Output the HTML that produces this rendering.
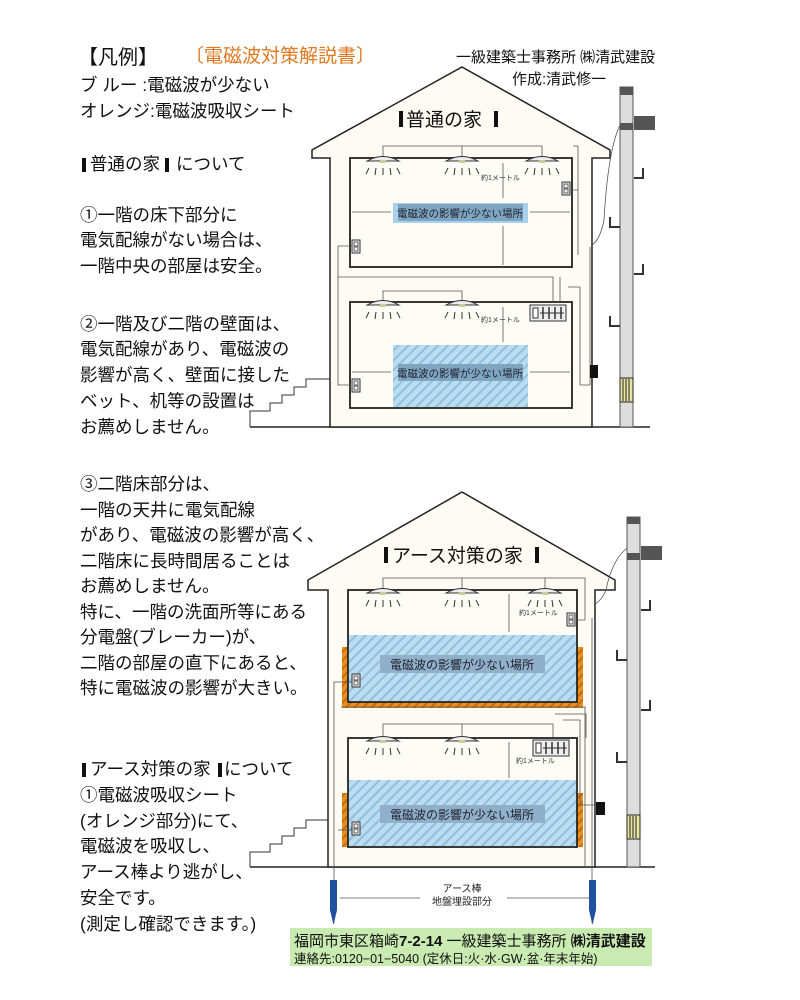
<!DOCTYPE html>
<html><head><meta charset="utf-8"><style>
html,body{margin:0;padding:0;background:#fff;}
svg{display:block;}
text{font-family:"Liberation Sans","Noto Sans CJK JP",sans-serif;}
</style></head><body>
<svg width="800" height="1000" viewBox="0 0 800 1000" xmlns="http://www.w3.org/2000/svg">
<defs>
<pattern id="h" width="7" height="7" patternUnits="userSpaceOnUse" patternTransform="rotate(45)">
<rect width="7" height="7" fill="#bcdcf0"/><rect width="2" height="7" fill="#8fbfe0"/>
</pattern>
<pattern id="o" width="6" height="6" patternUnits="userSpaceOnUse" patternTransform="rotate(45)">
<rect width="6" height="6" fill="#e8901c"/><rect width="2" height="6" fill="#c86a10"/>
</pattern>
<g id="lamp"><path d="M-16,3 Q0,-6 16,3 Z" fill="#eee" stroke="#333" stroke-width="1"/><rect x="-3" y="2" width="6" height="3" fill="#cc9"/>
<g stroke="#333" stroke-width="1"><line x1="-14" y1="10" x2="-17" y2="16"/><line x1="-7" y1="10" x2="-8" y2="17"/><line x1="0" y1="10" x2="0" y2="17"/><line x1="7" y1="10" x2="8" y2="17"/><line x1="14" y1="10" x2="17" y2="16"/></g></g>
<g id="sock"><rect x="0" y="0" width="8" height="13" fill="#eee" stroke="#333"/><rect x="2" y="2" width="4" height="4" fill="none" stroke="#333" stroke-width=".7"/><rect x="2" y="7" width="4" height="4" fill="none" stroke="#333" stroke-width=".7"/></g>
<g id="panel"><rect x="0" y="0" width="36" height="16" fill="#eee" stroke="#333"/><rect x="3" y="3" width="5" height="10" fill="#fff" stroke="#333"/><g stroke="#333" stroke-width="1.5"><line x1="13" y1="2" x2="13" y2="14"/><line x1="19" y1="2" x2="19" y2="14"/><line x1="25" y1="2" x2="25" y2="14"/><line x1="31" y1="2" x2="31" y2="14"/></g><line x1="10" y1="8" x2="34" y2="8" stroke="#333"/></g>
</defs>

<!-- left text -->
<g font-size="17.5" fill="#111">
<text x="78" y="64" font-size="20">【凡例】</text>
<text x="80" y="91">ブ ルー :電磁波が少ない</text>
<text x="80" y="117">オレンジ:電磁波吸収シート</text>
<rect x="82" y="158" width="4" height="14" fill="#111"/><text x="90" y="170">普通の家</text><rect x="165" y="158" width="4" height="14" fill="#111"/><text x="176" y="170">について</text>
<text x="80" y="221">①一階の床下部分に</text>
<text x="80" y="246">電気配線がない場合は、</text>
<text x="80" y="272">一階中央の部屋は安全。</text>
<text x="80" y="330">②一階及び二階の壁面は、</text>
<text x="80" y="355">電気配線があり、電磁波の</text>
<text x="80" y="381">影響が高く、壁面に接した</text>
<text x="80" y="407">ベット、机等の設置は</text>
<text x="80" y="433">お薦めしません。</text>
<text x="80" y="490">③二階床部分は、</text>
<text x="80" y="516">一階の天井に電気配線</text>
<text x="80" y="541">があり、電磁波の影響が高く、</text>
<text x="80" y="567">二階床に長時間居ることは</text>
<text x="80" y="592">お薦めしません。</text>
<text x="80" y="618">特に、一階の洗面所等にある</text>
<text x="80" y="643">分電盤(ブレーカー)が、</text>
<text x="80" y="669">二階の部屋の直下にあると、</text>
<text x="80" y="694">特に電磁波の影響が大きい。</text>
<rect x="82" y="763" width="4" height="14" fill="#111"/><text x="90" y="775">アース対策の家</text><rect x="218" y="763" width="4" height="14" fill="#111"/><text x="224" y="775">について</text>
<text x="80" y="801">①電磁波吸収シート</text>
<text x="80" y="827">(オレンジ部分)にて、</text>
<text x="80" y="852">電磁波を吸収し、</text>
<text x="80" y="878">アース棒より逃がし、</text>
<text x="80" y="904">安全です。</text>
<text x="80" y="930">(測定し確認できます。)</text>
</g>
<text x="185" y="62" font-size="19" fill="#e07820">〔電磁波対策解説書〕</text>
<text x="456" y="62" font-size="15" fill="#111">一級建築士事務所 ㈱清武建設</text>
<text x="512" y="84" font-size="15" fill="#111">作成:清武修一</text>

<!-- HOUSE 1 -->
<line x1="250" y1="427" x2="650" y2="427" stroke="#222" stroke-width="1.5"/>
<path d="M250,427 V411 H270 V403 H282 V395 H294 V387 H306 V379 H330" fill="none" stroke="#333"/>
<path d="M330,427 V158 H312 V150 L462,67 L610,150 V158 H592 V427 Z" fill="#fdfbf3" stroke="#222" stroke-width="1.5"/>
<rect x="399" y="111" width="4" height="16" fill="#111"/><text x="406" y="126" font-size="19" fill="#111">普通の家</text><rect x="494" y="111" width="4" height="16" fill="#111"/>
<rect x="350" y="158" width="222" height="109" fill="#fdfcf6" stroke="#222" stroke-width="1.8"/>
<rect x="350" y="302" width="222" height="106" fill="#fdfcf6" stroke="#222" stroke-width="1.8"/>
<rect x="393" y="345" width="135" height="62" fill="url(#h)"/>
<rect x="393" y="203" width="135" height="20" fill="#a9d0ec"/>
<rect x="398" y="204" width="125" height="17" fill="#7fa6c0"/>
<text x="460" y="217" font-size="10.5" text-anchor="middle" fill="#223">電磁波の影響が少ない場所</text>
<rect x="398" y="364" width="125" height="17" fill="#7fa6c0"/>
<text x="460" y="377" font-size="10.5" text-anchor="middle" fill="#223">電磁波の影響が少ない場所</text>
<g fill="none" stroke="#555" stroke-width=".8">
<path d="M383,158 V146 H542 V158 M462,146 V158 M573,146 H578 V255 M578,190 H566"/>
<path d="M358,246 H338 V277 H553 V302 M338,277 V385 H350 M560,277 V302 M568,287 H580 V385 H590"/>
<path d="M383,302 V291 H462 V302"/>
<path d="M590,247 V385 M592,245 Q600,240 604,220 Q608,150 620,125"/>
<path d="M503,163 V198 M503,226 V265 M503,307 V342 M352,212 H391 M530,212 H570 M352,372 H391 M530,372 H570"/>
</g>
<text x="481" y="180" font-size="7" fill="#333">約1メートル</text>
<text x="481" y="322" font-size="7" fill="#333">約1メートル</text>
<use href="#lamp" x="383" y="158"/><use href="#lamp" x="462" y="158"/><use href="#lamp" x="542" y="158"/>
<use href="#lamp" x="383" y="302"/><use href="#lamp" x="462" y="302"/>
<use href="#sock" x="562" y="182"/><use href="#sock" x="352" y="240"/><use href="#sock" x="352" y="379"/>
<use href="#panel" x="530" y="305"/>
<rect x="590" y="365" width="8" height="13" fill="#111"/>
<!-- pole 1 -->
<rect x="620" y="87" width="13" height="340" fill="#ddd" stroke="#555"/>
<rect x="620" y="87" width="13" height="8" fill="#555"/>
<rect x="620" y="123" width="13" height="7" fill="#555"/>
<rect x="634" y="116" width="21" height="14" fill="#555"/>
<rect x="620" y="378" width="13" height="24" fill="#e8e4a0" stroke="#222"/>
<g stroke="#222" stroke-width="1"><line x1="623" y1="379" x2="623" y2="401"/><line x1="626" y1="379" x2="626" y2="401"/><line x1="629" y1="379" x2="629" y2="401"/></g>
<g fill="none" stroke="#333" stroke-width="2"><path d="M634,178 H643 V168"/><path d="M620,227 H610 V217"/><path d="M634,274 H643 V264"/><path d="M620,326 H610 V316"/></g>

<!-- HOUSE 2 -->
<line x1="250" y1="867" x2="655" y2="867" stroke="#222" stroke-width="1.5"/>
<path d="M250,867 V852 H270 V844 H282 V836 H294 V828 H306 V820 H328" fill="none" stroke="#333"/>
<path d="M328,867 V590 H308 V580 L462,492 L615,580 V590 H595 V867 Z" fill="#fdfbf3" stroke="#222" stroke-width="1.5"/>
<rect x="384" y="547" width="4" height="16" fill="#111"/><text x="392" y="562" font-size="19" fill="#111">アース対策の家</text><rect x="535" y="547" width="4" height="16" fill="#111"/>
<rect x="342" y="647" width="241" height="61" fill="url(#o)"/>
<rect x="342" y="793" width="241" height="54" fill="url(#o)"/>
<rect x="348" y="590" width="229" height="112" fill="#fdfcf6" stroke="#222" stroke-width="1.8"/>
<rect x="349" y="635" width="227" height="66" fill="url(#h)"/>
<rect x="348" y="738" width="229" height="109" fill="#fdfcf6" stroke="#222" stroke-width="1.8"/>
<rect x="349" y="780" width="227" height="66" fill="url(#h)"/>
<rect x="380" y="655" width="165" height="18" fill="#8fb0c8"/>
<text x="462" y="669" font-size="12" text-anchor="middle" fill="#223">電磁波の影響が少ない場所</text>
<rect x="380" y="805" width="165" height="18" fill="#8fb0c8"/>
<text x="462" y="819" font-size="12" text-anchor="middle" fill="#223">電磁波の影響が少ない場所</text>
<g fill="none" stroke="#555" stroke-width=".8">
<path d="M383,590 V578 H585 V620 H577 M462,578 V590 M545,578 V590"/>
<path d="M356,682 H334 V923 M341,707 H585 V867 M356,830 H338"/>
<path d="M383,738 V724 H553 V738 M462,724 V738 M555,714 H586 V738 M563,720 H580 V805 H597"/>
<path d="M592,618 V923 M594,605 Q602,600 606,590 Q612,560 627,548"/>
<path d="M509,594 V632 M509,742 V778"/>
<path d="M340,898 H420 M507,898 H590"/>
</g>
<text x="519" y="615" font-size="7" fill="#333">約1メートル</text>
<text x="516" y="763" font-size="7" fill="#333">約1メートル</text>
<use href="#lamp" x="383" y="590"/><use href="#lamp" x="462" y="590"/><use href="#lamp" x="545" y="590"/>
<use href="#lamp" x="383" y="738"/><use href="#lamp" x="462" y="738"/>
<use href="#sock" x="567" y="613"/><use href="#sock" x="352" y="674"/><use href="#sock" x="352" y="822"/>
<use href="#panel" x="533" y="740"/>
<rect x="596" y="802" width="9" height="13" fill="#111"/>
<text x="462" y="892" font-size="10" text-anchor="middle" fill="#222">アース棒</text>
<text x="462" y="905" font-size="10" text-anchor="middle" fill="#222">地盤埋設部分</text>
<path d="M330,880 H337 V910 L333.5,925 L330,910 Z" fill="#2050a0"/>
<path d="M589,880 H596 V910 L592.5,925 L589,910 Z" fill="#2050a0"/>
<!-- pole 2 -->
<rect x="627" y="517" width="13" height="350" fill="#ddd" stroke="#555"/>
<rect x="627" y="517" width="13" height="7" fill="#555"/>
<rect x="627" y="553" width="13" height="7" fill="#555"/>
<rect x="641" y="546" width="21" height="14" fill="#555"/>
<rect x="627" y="815" width="13" height="24" fill="#e8e4a0" stroke="#222"/>
<g stroke="#222" stroke-width="1"><line x1="630" y1="816" x2="630" y2="838"/><line x1="633" y1="816" x2="633" y2="838"/><line x1="636" y1="816" x2="636" y2="838"/></g>
<g fill="none" stroke="#333" stroke-width="2"><path d="M641,610 H650 V600"/><path d="M627,660 H617 V650"/><path d="M641,710 H650 V700"/><path d="M627,762 H617 V752"/></g>

<!-- footer -->
<rect x="290" y="928" width="362" height="38" fill="#c9eab0"/>
<text x="294" y="946" font-size="15" fill="#111">福岡市東区箱崎<tspan font-weight="bold">7-2-14</tspan> 一級建築士事務所 <tspan font-weight="bold">㈱清武建設</tspan></text>
<text x="294" y="963" font-size="12.5" fill="#111">連絡先:0120−01−5040 (定休日:火·水·GW·盆·年末年始)</text>
</svg>
</body></html>
